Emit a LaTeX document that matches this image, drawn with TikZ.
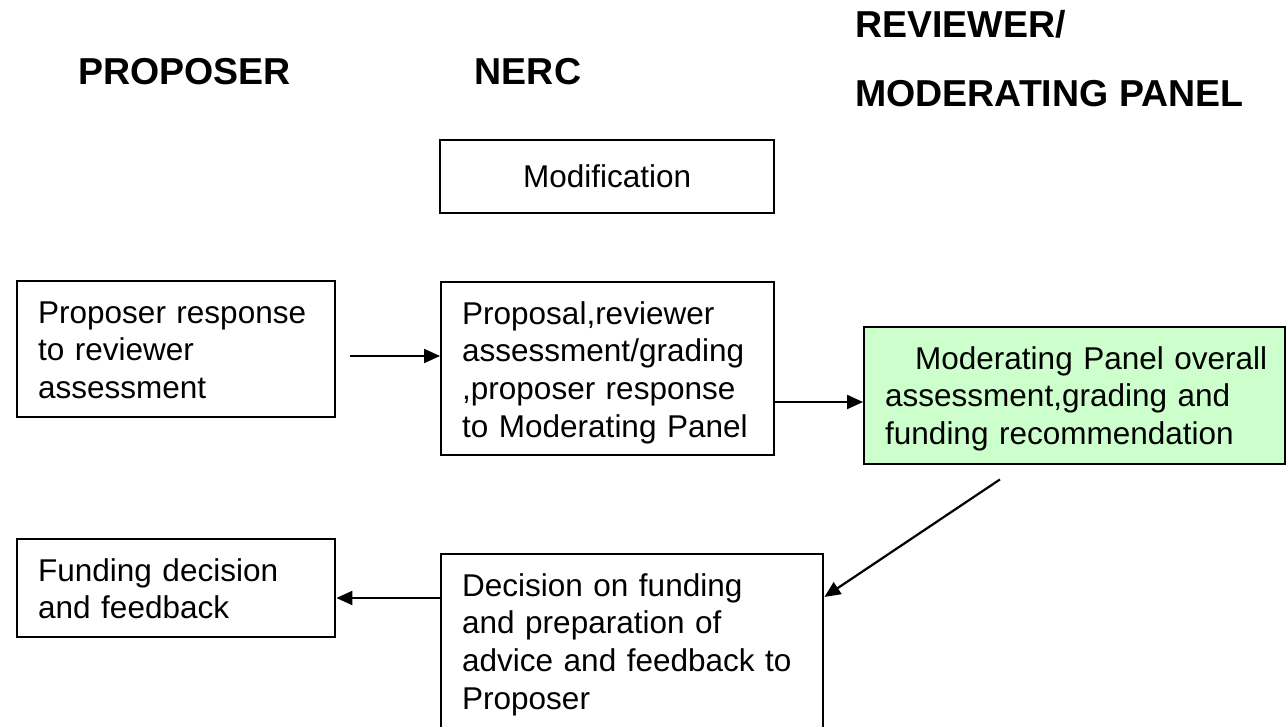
\documentclass[tikz,border=0pt]{standalone}
\usepackage{fontspec}
\setmainfont{Liberation Sans}
\usetikzlibrary{arrows.meta}
\definecolor{panelgreen}{RGB}{204,255,204}
\hyphenpenalty=10000
\tikzset{%
heading/.style={font=\fontsize{37.5}{45}\selectfont\bfseries,anchor=base west,inner sep=0pt},
stage/.style={draw,line width=2.4pt,font=\fontsize{31.5}{37.7}\selectfont,align=left,
              anchor=north west,inner xsep=21pt,inner ysep=18pt,text height=24pt},
flow/.style={line width=2.2pt,-{Triangle[length=16pt,width=14pt]}},
}
\begin{document}
\begin{tikzpicture}[x=1pt,y=-1pt]
\useasboundingbox (0,0) rectangle (1286,727);

\node[heading] (proposer) at (78,85) {PROPOSER};
\node[heading,anchor=base] (nerc) at (528,85) {NERC};
\node[heading] (reviewer) at (855,38) {REVIEWER/};
\node[heading] (panel) at (855,107) {MODERATING PANEL};

\node[stage,align=center,text width=292pt,text height=29pt,text depth=8pt] (modif) at (439,139) {Modification};
\node[stage,text width=276pt,text depth=76pt] (resp) at (16,280) {Proposer response\\ to reviewer\\ assessment};
\node[stage,text width=291pt,text depth=113pt] (prop) at (440,281)
      {Proposal,reviewer\\ assessment/grading\\ ,proposer response\\ to Moderating Panel};
\node[stage,fill=panelgreen,text width=379pt,text depth=77pt] (green) at (863,326)
      {\hspace*{30pt}Moderating~Panel~overall\\ assessment,grading and\\ funding recommendation};
\node[stage,text width=276pt,text depth=38pt] (fund) at (16,538) {Funding decision\\ and feedback};
\node[stage,text width=340pt,text depth=118pt] (dec) at (440,553)
      {Decision on funding\\ and preparation of\\ advice and feedback to\\ Proposer};

\draw[flow] ([xshift=14pt,yshift=-76pt]resp.north east) -- ([yshift=-75pt]prop.north west);
\draw[flow] ([yshift=-121pt]prop.north east) -- ([yshift=-76pt]green.north west);
\draw[flow] ([xshift=137pt,yshift=-14pt]green.south west) -- ([yshift=-44pt]dec.north east);
\draw[flow] ([yshift=-45pt]dec.north west) -- ([yshift=-60pt]fund.north east);
\end{tikzpicture}
\end{document}
